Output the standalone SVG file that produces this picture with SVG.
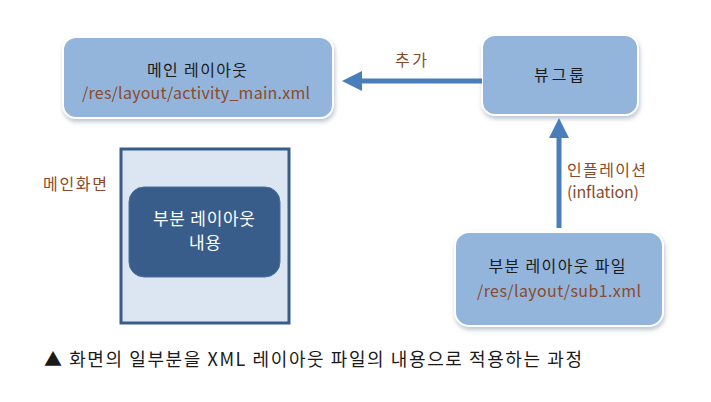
<svg xmlns="http://www.w3.org/2000/svg" width="711" height="402" viewBox="0 0 711 402">
<defs>
<filter id="sh" x="-10%" y="-10%" width="120%" height="130%">
<feDropShadow dx="1" dy="3" stdDeviation="2" flood-color="#7f8fa6" flood-opacity="0.5"/>
</filter>
</defs>
<style>
text{font-family:"Noto Sans CJK KR","Noto Sans",sans-serif;}
.box{fill:#93B5DC;stroke:#ffffff;stroke-width:2;filter:url(#sh);}
.t{font-size:16px;fill:#1a1a1a;text-anchor:middle;}
.p{font-size:16px;fill:#8B4A2B;text-anchor:middle;}
.lbl{font-size:16px;fill:#8B4A2B;}
.conn{stroke:#4A7EBB;stroke-width:5;fill:none;}
.head{fill:#4A7EBB;}
</style>
<rect width="711" height="402" fill="#ffffff"/>
<g id="main-layout">
<rect class="box" x="63" y="37" width="270" height="81" rx="13"/>
<text class="t" x="197" y="76" textLength="100">메인 레이아웃</text>
<text class="p" x="196" y="99" textLength="228">/res/layout/activity_main.xml</text>
</g>
<g id="viewgroup">
<rect class="box" x="482" y="35" width="156" height="80" rx="13"/>
<text class="t" x="559" y="81" textLength="50">뷰그룹</text>
</g>
<g id="main-screen">
<text class="lbl" x="43" y="190" textLength="64">메인화면</text>
<rect x="121" y="149" width="168" height="174" fill="#DCE6F2" stroke="#385D8A" stroke-width="3"/>
<rect x="129" y="187" width="151" height="90" rx="15" fill="#385D8A" stroke="#4a6fa0" stroke-width="1"/>
<text x="204" y="225" font-size="17" fill="#ffffff" text-anchor="middle" textLength="102">부분 레이아웃</text>
<text x="205" y="249" font-size="17" fill="#ffffff" text-anchor="middle" textLength="32">내용</text>
</g>
<g id="sub-layout">
<rect class="box" x="455" y="232" width="208" height="94" rx="14"/>
<text class="t" x="557" y="272" textLength="137">부분 레이아웃 파일</text>
<text class="p" x="559" y="297" textLength="164">/res/layout/sub1.xml</text>
</g>
<g id="connectors">
<line class="conn" x1="482" y1="81" x2="358" y2="81"/>
<polygon class="head" points="342,81 362,71 362,91"/>
<text class="lbl" x="395" y="66" textLength="32">추가</text>
<line class="conn" x1="559" y1="228" x2="559" y2="134"/>
<polygon class="head" points="559,118 549,138 569,138"/>
<text class="lbl" x="567" y="176" textLength="79">인플레이션</text>
<text class="lbl" x="567" y="198" textLength="72">(inflation)</text>
</g>
<g id="caption">
<text x="44" y="366" font-size="18" fill="#1a1a1a" textLength="538">▲ 화면의 일부분을 XML 레이아웃 파일의 내용으로 적용하는 과정</text>
</g>
</svg>
